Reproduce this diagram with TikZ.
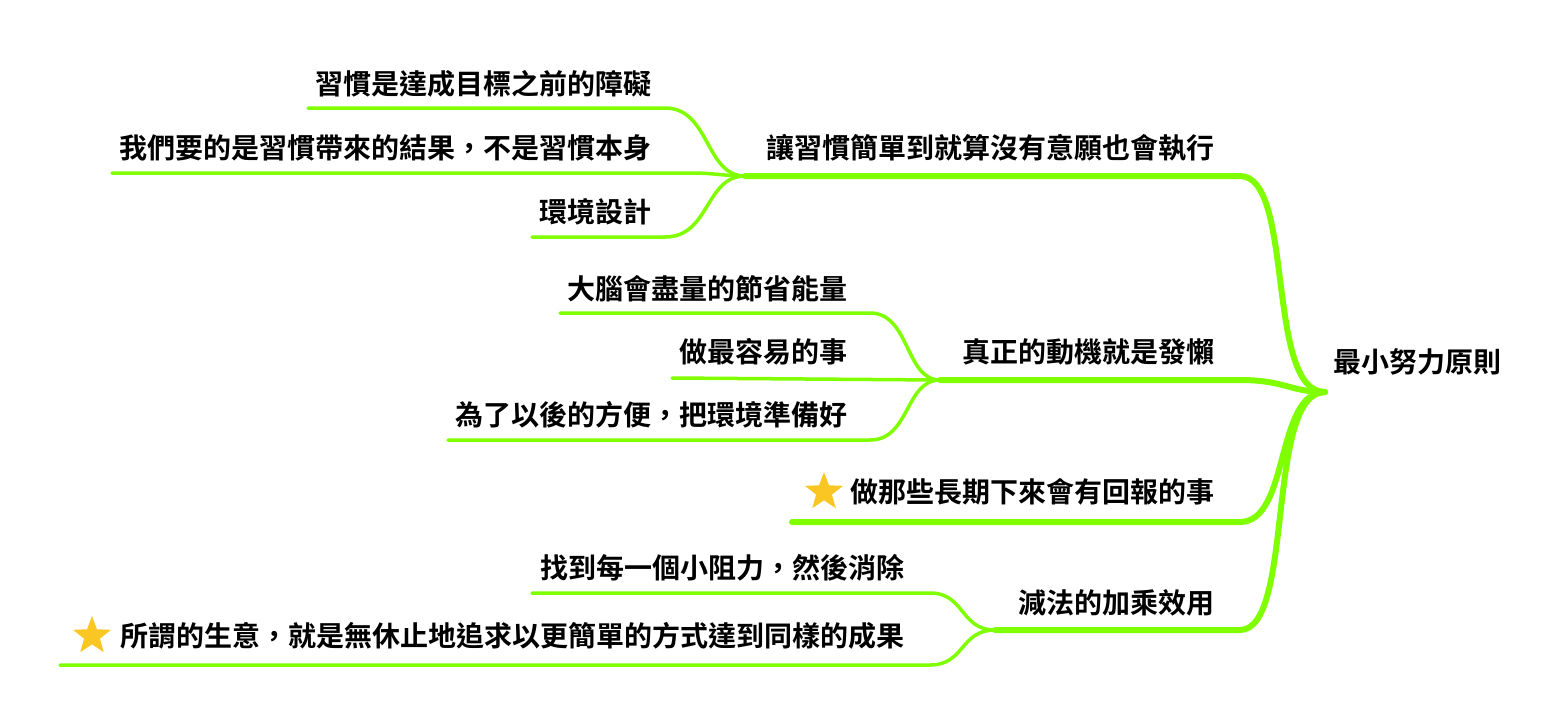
\documentclass[tikz,border=0pt]{standalone}
\usepackage{fontspec}
\newfontfamily\cjk{Noto Sans CJK TC}[BoldFont={Noto Sans CJK TC Bold}]
\usetikzlibrary{shapes.geometric}
\definecolor{branch}{HTML}{80FF00}
\definecolor{stargold}{HTML}{FAC623}
\tikzset{
  topic/.style={anchor=east, inner sep=0pt, font=\cjk\bfseries\fontsize{28}{32}\selectfont},
  mainline/.style={branch, line width=6pt, line cap=round},
  subline/.style={branch, line width=3.5pt, line cap=round},
  goldstar/.style={star, star points=5, star point ratio=2.4, fill=stargold, inner sep=0pt, minimum size=40pt}
}
\begin{document}
\begin{tikzpicture}[x=1pt, y=-1pt]
\useasboundingbox (0,0) rectangle (1568,724);

% root
\node[topic, anchor=west] (root) at (1333,362) {最小努力原則};
\coordinate (r) at (1325,392);

% branch 1
\node[topic] (b1) at (1215,148) {讓習慣簡單到就算沒有意願也會執行};
\coordinate (j1) at (745,176);
\draw[mainline] (j1) -- (1240,176) .. controls (1295,176) and (1265,392) .. (r);
\node[topic] (b1a) at (652,84) {習慣是達成目標之前的障礙};
\node[topic] (b1b) at (652,148) {我們要的是習慣帶來的結果，不是習慣本身};
\node[topic] (b1c) at (652,212) {環境設計};
\draw[subline] (308,108) -- (665,108) .. controls (710,108) and (705,176) .. (j1);
\draw[subline] (112,173) -- (690,173) .. controls (715,173) and (725,176) .. (j1);
\draw[subline] (532,237) -- (665,237) .. controls (710,237) and (705,176) .. (j1);

% branch 2
\node[topic] (b2) at (1215,352) {真正的動機就是發懶};
\coordinate (j2) at (940,380);
\draw[mainline] (j2) -- (1240,380) .. controls (1285,380) and (1290,392) .. (r);
\node[topic] (b2a) at (848,289) {大腦會盡量的節省能量};
\node[topic] (b2b) at (848,352) {做最容易的事};
\node[topic] (b2c) at (848,415) {為了以後的方便，把環境準備好};
\draw[subline] (560,313) -- (870,313) .. controls (910,313) and (905,380) .. (j2);
\draw[subline] (672,378) -- (j2);
\draw[subline] (448,440) -- (870,440) .. controls (910,440) and (905,380) .. (j2);

% branch 3
\node[topic] (b3) at (1215,492) {做那些長期下來會有回報的事};
\node[goldstar] (s3) at (824,492) {};
\draw[mainline] (792,522) -- (1240,522) .. controls (1290,522) and (1275,392) .. (r);

% branch 4
\node[topic] (b4) at (1215,603) {減法的加乘效用};
\coordinate (j4) at (995,630);
\draw[mainline] (j4) -- (1240,630) .. controls (1295,630) and (1265,392) .. (r);
\node[topic] (b4a) at (905,568) {找到每一個小阻力，然後消除};
\node[topic] (b4b) at (905,636) {所謂的生意，就是無休止地追求以更簡單的方式達到同樣的成果};
\node[goldstar] (s4) at (92,636) {};
\draw[subline] (532,593) -- (930,593) .. controls (965,593) and (960,630) .. (j4);
\draw[subline] (60,665) -- (930,665) .. controls (965,665) and (960,630) .. (j4);
\end{tikzpicture}
\end{document}
